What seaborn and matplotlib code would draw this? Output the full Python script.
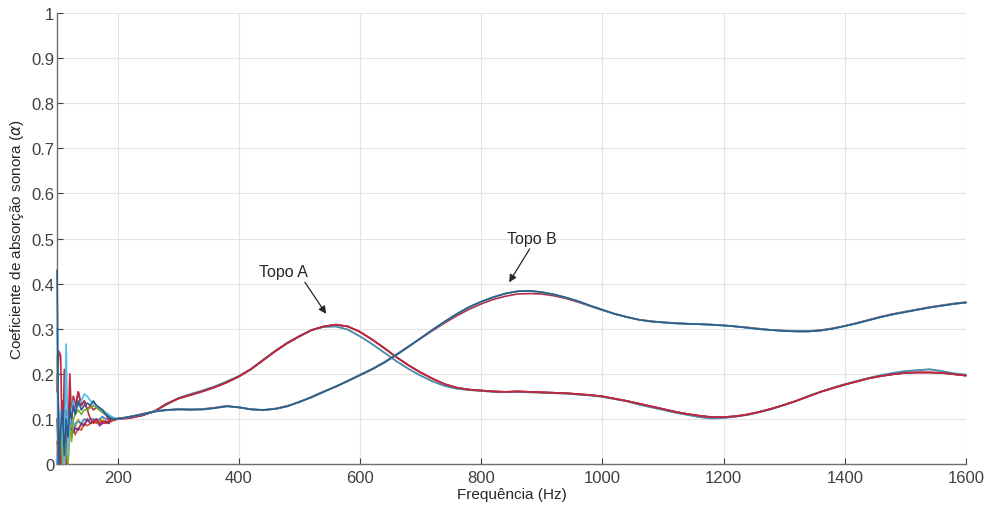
import matplotlib
matplotlib.use("Agg")
import matplotlib.pyplot as plt
import seaborn as sns

# Frequency grids (Hz): dense at the noisy low end, 20 Hz steps afterwards
freq_low = [100, 103, 106, 109, 112, 115, 118, 121, 124, 127, 130, 135,
            140, 145, 150, 155, 160, 165, 170, 175, 180, 185, 190, 195]
freq_main = list(range(200, 1601, 20))

# Topo A, low-frequency part of each measurement
a_red_low = [0.16, 0.25, 0.24, 0.00, 0.21, 0.00, 0.05, 0.20, 0.10, 0.15, 0.12, 0.16,
             0.13, 0.14, 0.12, 0.10, 0.09, 0.10, 0.09, 0.095, 0.09, 0.095, 0.10, 0.10]
a_purple_low = [0.10, 0.00, 0.05, 0.12, 0.03, 0.09, 0.10, 0.07, 0.08, 0.07, 0.08, 0.075,
                0.09, 0.085, 0.10, 0.09, 0.095, 0.10, 0.085, 0.09, 0.095, 0.09, 0.10, 0.098]
a_orange_low = [0.05, 0.00, 0.08, 0.02, 0.10, 0.05, 0.07, 0.09, 0.06, 0.08, 0.065, 0.08,
                0.075, 0.09, 0.085, 0.09, 0.095, 0.09, 0.10, 0.09, 0.095, 0.09, 0.095, 0.097]
a_yellow_low = [0.02, 0.06, 0.00, 0.09, 0.03, 0.07, 0.00, 0.06, 0.09, 0.07, 0.08, 0.10,
                0.085, 0.09, 0.10, 0.09, 0.10, 0.095, 0.09, 0.10, 0.09, 0.10, 0.095, 0.10]
a_blue_low = [0.00, 0.08, 0.00, 0.10, 0.04, 0.09, 0.06, 0.08, 0.10, 0.07, 0.09, 0.095,
              0.09, 0.10, 0.095, 0.10, 0.10, 0.095, 0.10, 0.105, 0.10, 0.10, 0.10, 0.10]

# Topo B, low-frequency part of each measurement
b_green_low = [0.24, 0.02, 0.10, 0.00, 0.06, 0.03, 0.00, 0.09, 0.05, 0.10, 0.11, 0.12,
               0.11, 0.12, 0.12, 0.125, 0.13, 0.125, 0.12, 0.115, 0.11, 0.11, 0.10, 0.10]
b_cyan_low = [0.30, 0.00, 0.12, 0.07, 0.00, 0.266, 0.02, 0.10, 0.12, 0.14, 0.12, 0.13,
              0.14, 0.155, 0.15, 0.14, 0.135, 0.13, 0.125, 0.12, 0.115, 0.11, 0.105, 0.102]
b_blue_low = [0.43, 0.00, 0.08, 0.12, 0.02, 0.10, 0.06, 0.12, 0.10, 0.13, 0.11, 0.14,
              0.12, 0.13, 0.135, 0.13, 0.14, 0.13, 0.125, 0.12, 0.11, 0.105, 0.10, 0.10]
b_purple_low = [0.20, 0.10, 0.00, 0.14, 0.08, 0.12, 0.10, 0.14, 0.11, 0.15, 0.13, 0.16,
                0.13, 0.14, 0.12, 0.13, 0.12, 0.125, 0.12, 0.115, 0.11, 0.10, 0.105, 0.10]

# Topo A, 200-1600 Hz
a_main = [0.100, 0.102, 0.108, 0.116, 0.133, 0.145, 0.153, 0.161, 0.170, 0.181,
          0.194, 0.210, 0.230, 0.250, 0.268, 0.283, 0.297, 0.305, 0.309, 0.305,
          0.293, 0.276, 0.257, 0.237, 0.219, 0.203, 0.189, 0.177, 0.169, 0.165,
          0.163, 0.161, 0.160, 0.161, 0.160, 0.159, 0.158, 0.157, 0.155, 0.153,
          0.150, 0.145, 0.140, 0.134, 0.128, 0.122, 0.116, 0.111, 0.107, 0.104,
          0.104, 0.106, 0.110, 0.116, 0.123, 0.131, 0.140, 0.150, 0.160, 0.168,
          0.176, 0.183, 0.190, 0.195, 0.199, 0.202, 0.203, 0.203, 0.202, 0.199,
          0.196]
a_alt = [0.101, 0.103, 0.107, 0.117, 0.131, 0.146, 0.155, 0.163, 0.172, 0.183,
         0.195, 0.211, 0.231, 0.251, 0.269, 0.284, 0.297, 0.304, 0.305, 0.298,
         0.283, 0.266, 0.247, 0.228, 0.211, 0.196, 0.183, 0.173, 0.167, 0.164,
         0.162, 0.160, 0.160, 0.160, 0.159, 0.158, 0.157, 0.156, 0.154, 0.152,
         0.149, 0.144, 0.139, 0.132, 0.126, 0.120, 0.114, 0.109, 0.104, 0.101,
         0.102, 0.105, 0.109, 0.115, 0.122, 0.131, 0.140, 0.151, 0.160, 0.169,
         0.177, 0.184, 0.191, 0.197, 0.202, 0.206, 0.208, 0.210, 0.206, 0.201,
         0.198]

# Topo B, 200-1600 Hz
b_main = [0.100, 0.105, 0.110, 0.116, 0.120, 0.121, 0.121, 0.121, 0.124, 0.128,
          0.126, 0.121, 0.120, 0.122, 0.128, 0.138, 0.148, 0.160, 0.172, 0.184,
          0.197, 0.210, 0.225, 0.242, 0.260, 0.279, 0.298, 0.316, 0.333, 0.348,
          0.360, 0.370, 0.378, 0.383, 0.384, 0.381, 0.376, 0.369, 0.361, 0.351,
          0.342, 0.333, 0.326, 0.320, 0.316, 0.314, 0.312, 0.311, 0.310, 0.309,
          0.307, 0.305, 0.302, 0.299, 0.297, 0.295, 0.294, 0.294, 0.296, 0.300,
          0.306, 0.312, 0.319, 0.326, 0.332, 0.337, 0.342, 0.347, 0.351, 0.355,
          0.358]
b_alt = [0.101, 0.104, 0.111, 0.117, 0.119, 0.122, 0.120, 0.122, 0.125, 0.129,
         0.125, 0.122, 0.119, 0.123, 0.129, 0.137, 0.149, 0.161, 0.171, 0.185,
         0.198, 0.211, 0.226, 0.243, 0.261, 0.278, 0.296, 0.313, 0.329, 0.343,
         0.355, 0.365, 0.372, 0.377, 0.378, 0.377, 0.373, 0.367, 0.359, 0.350,
         0.341, 0.333, 0.326, 0.320, 0.317, 0.314, 0.313, 0.311, 0.310, 0.309,
         0.308, 0.305, 0.303, 0.300, 0.297, 0.296, 0.295, 0.295, 0.297, 0.301,
         0.306, 0.313, 0.320, 0.327, 0.333, 0.338, 0.343, 0.348, 0.352, 0.356,
         0.359]

y_ticks = [0, 0.1, 0.2, 0.3, 0.4, 0.5, 0.6, 0.7, 0.8, 0.9, 1]
y_labels = ["0", "0.1", "0.2", "0.3", "0.4", "0.5", "0.6", "0.7", "0.8", "0.9", "1"]
x_ticks = [200, 400, 600, 800, 1000, 1200, 1400, 1600]

# (low part, main part, colour) in drawing order
curves = [
    (a_yellow_low, a_alt, "#EDB120"),
    (a_orange_low, a_main, "#D95319"),
    (a_blue_low, a_alt, "#3C8DC8"),
    (a_purple_low, a_main, "#7E2F8E"),
    (a_red_low, a_main, "#C0283A"),
    (b_purple_low, b_alt, "#B0304A"),
    (b_green_low, b_main, "#77AC30"),
    (b_cyan_low, b_main, "#4DBEEE"),
    (b_blue_low, b_main, "#2E5A8C"),
]

sns.set_theme(style="whitegrid")
plt.rcParams["font.family"] = ["Liberation Sans", "DejaVu Sans"]

fig = plt.figure(figsize=(9.87, 5.10), dpi=100)
ax = fig.add_axes([0.0578, 0.0882, 0.9209, 0.8843])

for low, main, color in curves:
    sns.lineplot(x=freq_low + freq_main, y=low + main, color=color,
                 linewidth=1.2, ax=ax, sort=False, estimator=None,
                 zorder=3, clip_on=False)

ax.set_xlim(100, 1600)
ax.set_ylim(0, 1)
ax.set_xticks(x_ticks)
ax.set_xticklabels([str(t) for t in x_ticks])
ax.set_yticks(y_ticks)
ax.set_yticklabels(y_labels)
ax.tick_params(axis="both", direction="in", length=4, width=0.8,
               colors="#404040", labelsize=12)
ax.tick_params(axis="x", bottom=True, pad=4)
ax.tick_params(axis="y", left=True, pad=2)

ax.grid(True, color="#e3e3e3", linewidth=0.8)
ax.set_facecolor("white")
for side in ["top", "right"]:
    ax.spines[side].set_visible(False)
for side in ["left", "bottom"]:
    ax.spines[side].set_color("#6e6e6e")
    ax.spines[side].set_linewidth(1.0)

ax.set_xlabel("Frequência (Hz)", fontsize=11, color="#262626", labelpad=2)
ax.set_ylabel(r"Coeficiente de absorção sonora ($\alpha$)", fontsize=11,
              color="#262626", labelpad=4)

ax.text(473, 0.426, "Topo A", ha="center", va="center", fontsize=11.5, color="#262626")
ax.annotate("", xy=(544, 0.333), xytext=(509, 0.403),
            arrowprops=dict(arrowstyle="-|>", color="#262626", lw=0.9,
                            shrinkA=0, shrinkB=0, mutation_scale=11))
ax.text(883, 0.499, "Topo B", ha="center", va="center", fontsize=11.5, color="#262626")
ax.annotate("", xy=(846, 0.403), xytext=(880, 0.477),
            arrowprops=dict(arrowstyle="-|>", color="#262626", lw=0.9,
                            shrinkA=0, shrinkB=0, mutation_scale=11))

fig.savefig("out.png", dpi=100)
